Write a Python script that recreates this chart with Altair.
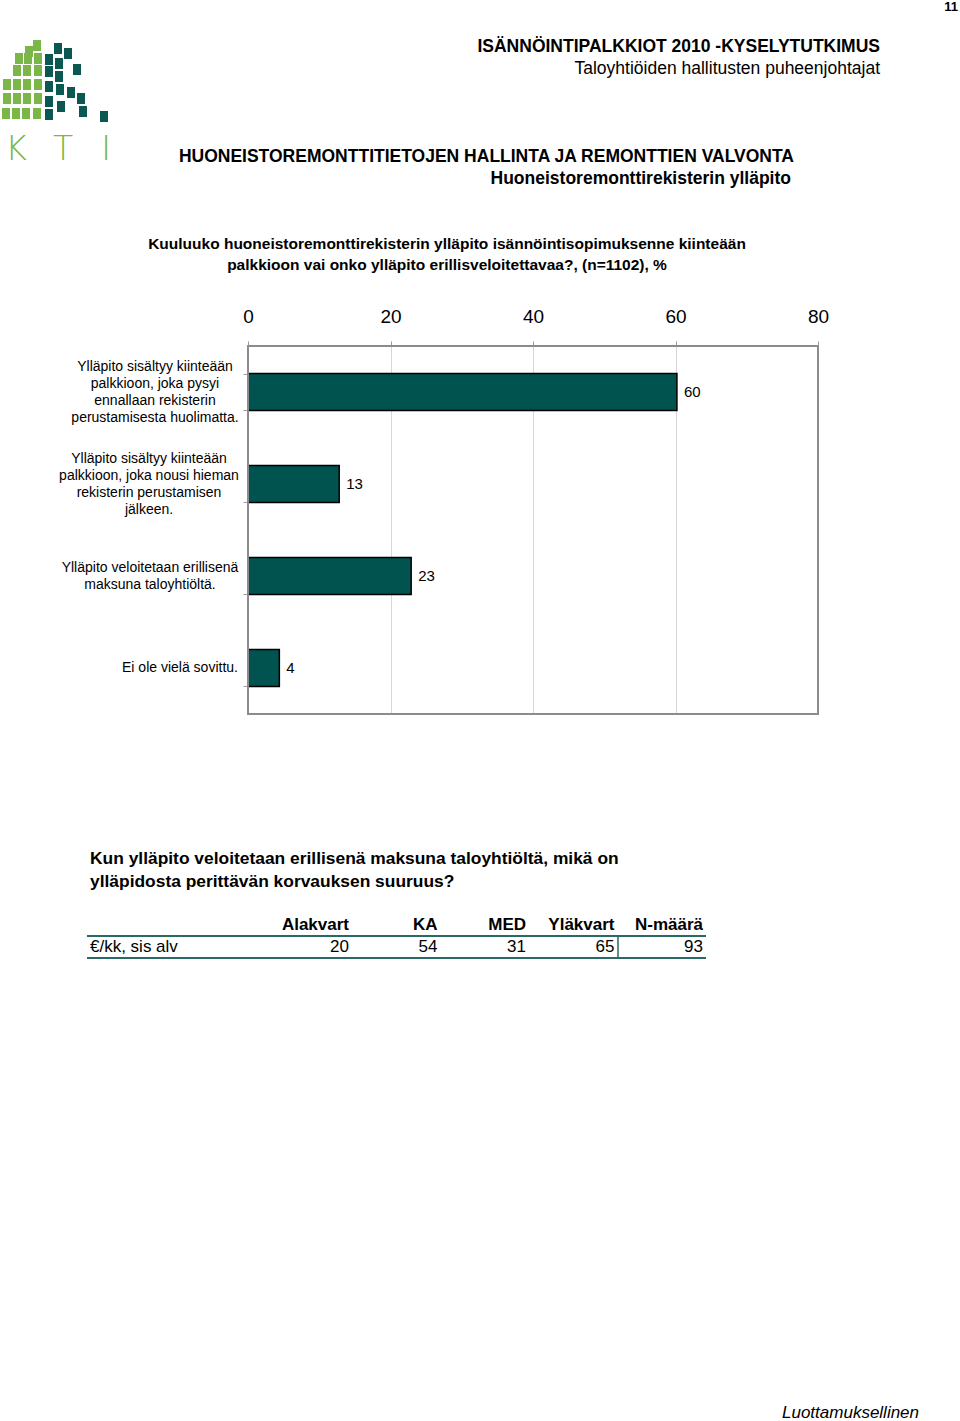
import altair as alt
import pandas as pd

# ---------------- data ----------------
CATEGORIES = [
    "Ylläpito sisältyy kiinteään\npalkkioon, joka pysyi\nennallaan rekisterin\nperustamisesta huolimatta.",
    "Ylläpito sisältyy kiinteään\npalkkioon, joka nousi hieman\nrekisterin perustamisen\njälkeen.",
    "Ylläpito veloitetaan erillisenä\nmaksuna taloyhtiöltä.",
    "Ei ole vielä sovittu.",
]
VALUES = [60.2, 12.8, 22.9, 4.4]
VALUE_LABELS = ["60", "13", "23", "4"]
X_TICKS = [0, 20, 40, 60, 80]

TABLE_HEADERS = ["Alakvart", "KA", "MED", "Yläkvart", "N-määrä"]
TABLE_ROW_LABEL = "€/kk, sis alv"
TABLE_VALUES = [20, 54, 31, 65, 93]

# ---------------- layout ----------------
PLOT_LEFT, PLOT_TOP, PLOT_W, PLOT_H = 248, 346, 570, 368
PAGE_W, PAGE_H = 960, 1421
TEAL = "#01534f"
LINE_TEAL = "#2a6a66"
GREEN = "#7ab648"
DARK = "#0b5752"
FONT = "Liberation Sans"
LINE_H = 17
PAD_INNER, PAD_OUTER = 0.6, 0.3
BANDWIDTH = PLOT_H / len(CATEGORIES) * (1 - PAD_INNER)


def ax(X):
    return X - PLOT_LEFT


def ay(Y):
    return Y - PLOT_TOP


dummy = pd.DataFrame({"d": [0]})


def txt(s, X, Y, size, bold=False, align="left", italic=False, color="black", font=FONT, weight=None):
    return alt.Chart(dummy).mark_text(
        text=s, align=align, baseline="middle", fontSize=size,
        fontWeight=weight if weight is not None else ("bold" if bold else "normal"),
        fontStyle="italic" if italic else "normal", font=font, color=color,
    ).encode(x=alt.value(ax(X)), y=alt.value(ay(Y)))


# ---------------- bar chart ----------------
df = pd.DataFrame({"cat": CATEGORIES, "value": VALUES, "label": VALUE_LABELS})
yscale = alt.Scale(type="band", paddingInner=PAD_INNER, paddingOuter=PAD_OUTER, domain=CATEGORIES)
xscale = alt.Scale(domain=[0, 80], nice=False)
x_axis = alt.Axis(
    orient="top", values=X_TICKS, title=None, labelFontSize=19, labelColor="black",
    labelFont=FONT, grid=True, gridColor="#d6d6d6", gridWidth=1, domain=False,
    tickColor="#9a9a9a", tickSize=5, labelPadding=15, labelFlush=False)
y_axis = alt.Axis(
    title=None, labels=False, domain=False, ticks=True, tickBand="extent",
    tickColor="#9a9a9a", tickSize=5, grid=False)

bars = alt.Chart(df).mark_bar(color=TEAL, stroke="black", strokeWidth=1.5).encode(
    x=alt.X("value:Q", scale=xscale, axis=x_axis),
    y=alt.Y("cat:N", scale=yscale, sort=CATEGORIES, axis=y_axis),
)
values_text = alt.Chart(df).mark_text(align="left", baseline="middle", dx=7, fontSize=15, font=FONT, color="black").encode(
    x=alt.X("value:Q", scale=xscale, axis=x_axis),
    y=alt.Y("cat:N", scale=yscale, sort=CATEGORIES, axis=y_axis),
    text="label:N",
)
bar_layer = alt.layer(bars, values_text)

# plot frame drawn over the gridlines
frame = alt.Chart(dummy).mark_rect(fill=None, stroke="#8c8c8c", strokeWidth=2).encode(
    x=alt.value(0), x2=alt.value(PLOT_W), y=alt.value(0), y2=alt.value(PLOT_H))

# category labels (centred blocks left of the axis)
LABEL_CENTER = [ax(155), ax(149), ax(150), ax(180)]
cat_df = pd.DataFrame({"cat": CATEGORIES, "cx": LABEL_CENTER})
cat_text = alt.Chart(cat_df).transform_calculate(
    yo=f"{BANDWIDTH / 2} - (length(split(datum.cat, '\\n')) - 1) * {LINE_H} / 2",
).mark_text(
    align="center", baseline="middle", fontSize=14, font=FONT, color="black", lineBreak="\n", lineHeight=LINE_H
).encode(
    x=alt.X("cx:Q", scale=None, axis=None),
    y=alt.Y("cat:N", scale=yscale, sort=CATEGORIES, axis=None),
    yOffset=alt.YOffset("yo:Q", scale=None),
    text="cat:N",
)

# ---------------- logo ----------------
green_cells = [(33, 40), (25, 46), (15, 53), (24, 53), (34, 53), (13, 65), (23, 65), (34, 65),
               (3, 79), (13, 79), (23, 79), (34, 79), (3, 93), (13, 93), (23, 93), (34, 93),
               (2, 108), (12, 108), (22, 108), (33, 108)]
dark_cells = [(54, 43), (64, 48), (45, 54), (55, 58), (73, 64), (45, 66), (55, 71), (45, 81),
              (56, 84), (67, 87), (77, 93), (45, 96), (57, 101), (79, 106), (100, 111), (45, 109)]
logo_rows = [{"x": ax(x), "x2": ax(x + 8), "y": ay(y), "y2": ay(y + 11), "c": GREEN} for x, y in green_cells] + \
            [{"x": ax(x), "x2": ax(x + 8), "y": ay(y), "y2": ay(y + 11), "c": DARK} for x, y in dark_cells]
logo = alt.Chart(pd.DataFrame(logo_rows)).mark_rect().encode(
    x=alt.X("x:Q", scale=None, axis=None), x2="x2:Q",
    y=alt.Y("y:Q", scale=None, axis=None), y2="y2:Q",
    color=alt.Color("c:N", scale=None),
)
logo_k = txt("K", 16, 150, 33, align="center", color=GREEN, font="DejaVu Sans", weight=200)
logo_t = txt("T", 63, 150, 33, align="center", color=GREEN, font="DejaVu Sans", weight=200)
logo_i = txt("I", 106, 150, 33, align="center", color=GREEN, font="DejaVu Sans", weight=200)

# ---------------- texts ----------------
texts = [
    txt("11", 958, 7, 13, bold=True, align="right"),
    txt("ISÄNNÖINTIPALKKIOT 2010 -KYSELYTUTKIMUS", 880, 47, 17.5, bold=True, align="right"),
    txt("Taloyhtiöiden hallitusten puheenjohtajat", 880, 69, 17.5, align="right"),
    txt("HUONEISTOREMONTTITIETOJEN HALLINTA JA REMONTTIEN VALVONTA", 794, 157, 17.5, bold=True, align="right"),
    txt("Huoneistoremonttirekisterin ylläpito", 791, 179, 17.5, bold=True, align="right"),
    txt("Kuuluuko huoneistoremonttirekisterin ylläpito isännöintisopimuksenne kiinteään", 447, 244, 15.5, bold=True, align="center"),
    txt("palkkioon vai onko ylläpito erillisveloitettavaa?, (n=1102), %", 447, 265, 15.5, bold=True, align="center"),
    txt("Kun ylläpito veloitetaan erillisenä maksuna taloyhtiöltä, mikä on", 90, 859, 17.4, bold=True),
    txt("ylläpidosta perittävän korvauksen suuruus?", 90, 882, 17.4, bold=True),
    txt(TABLE_ROW_LABEL, 90, 947, 17),
    txt("Luottamuksellinen", 782, 1413, 17, italic=True),
]

# ---------------- table ----------------
tbl_df = pd.DataFrame({"i": range(len(TABLE_HEADERS)), "h": TABLE_HEADERS, "v": [str(v) for v in TABLE_VALUES]})
col_scale = alt.Scale(domain=[0, len(TABLE_HEADERS) - 1], range=[ax(349), ax(703)])
tbl_head = alt.Chart(tbl_df).mark_text(align="right", baseline="middle", fontSize=17, fontWeight="bold", font=FONT, color="black").encode(
    x=alt.X("i:Q", scale=col_scale, axis=None), y=alt.value(ay(925)), text="h:N")
tbl_vals = alt.Chart(tbl_df).mark_text(align="right", baseline="middle", fontSize=17, font=FONT, color="black").encode(
    x=alt.X("i:Q", scale=col_scale, axis=None), y=alt.value(ay(947)), text="v:N")

rule_top = alt.Chart(dummy).mark_rule(color=LINE_TEAL, strokeWidth=2).encode(
    x=alt.value(ax(87)), x2=alt.value(ax(706)), y=alt.value(ay(936)))
rule_bot = alt.Chart(dummy).mark_rule(color=LINE_TEAL, strokeWidth=2).encode(
    x=alt.value(ax(87)), x2=alt.value(ax(706)), y=alt.value(ay(958)))
rule_v = alt.Chart(dummy).mark_rule(color=LINE_TEAL, strokeWidth=1.5).encode(
    x=alt.value(ax(618)), y=alt.value(ay(937)), y2=alt.value(ay(957)))

chart = alt.layer(
    bar_layer, frame, cat_text, logo, logo_k, logo_t, logo_i, *texts, tbl_head, tbl_vals, rule_top, rule_bot, rule_v
).resolve_scale(x="independent", y="independent").properties(
    width=PLOT_W, height=PLOT_H,
    padding={"left": PLOT_LEFT, "top": PLOT_TOP, "right": PAGE_W - PLOT_LEFT - PLOT_W, "bottom": PAGE_H - PLOT_TOP - PLOT_H},
    autosize=alt.AutoSizeParams(type="none"),
    background="white",
).configure_view(stroke=None).configure(font=FONT)

chart.save("out.html", embed_options={"renderer": "svg", "actions": False})
